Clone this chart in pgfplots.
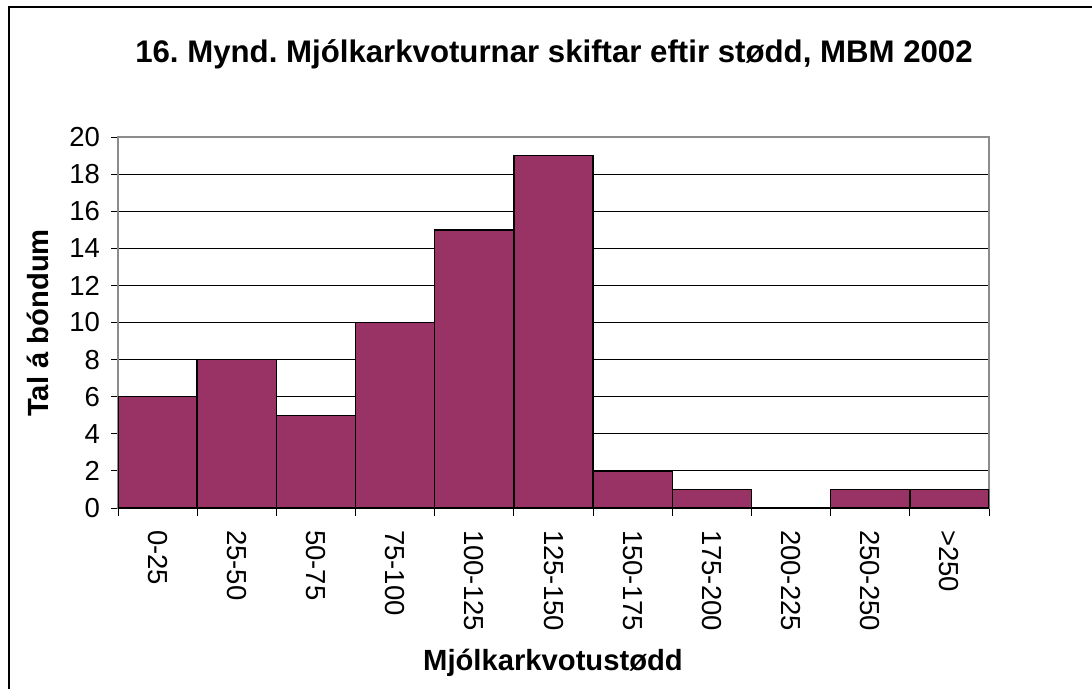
\documentclass[border=0pt]{standalone}
\usepackage{fontspec}
\setmainfont{Liberation Sans}
\usepackage{pgfplots}
\pgfplotsset{compat=1.18}
\definecolor{plum}{HTML}{993366}
\frenchspacing

\begin{document}
\begin{tikzpicture}
  % 1 px of the reference = 0.5pt
  \useasboundingbox (0,0) rectangle (546pt,-344.5pt);
  \draw[line width=0.75pt] (4.5pt,-3.5pt) rectangle (600pt,-400pt);
  \node[font=\bfseries\fontsize{15.6}{18}\selectfont] at (277pt,-27pt)
    {16. Mynd. Mjólkarkvoturnar skiftar eftir stødd, MBM 2002};
  \node[font=\bfseries\fontsize{14.6}{17}\selectfont, rotate=90] at (19pt,-161.5pt)
    {Tal á bóndum};
  \node[font=\bfseries\fontsize{14.6}{17}\selectfont] at (276.5pt,-331.5pt)
    {Mjólkarkvotustødd};
  \begin{axis}[
      at={(59pt,-254pt)}, anchor=south west,
      scale only axis,
      width=435.5pt, height=185.5pt,
      ybar, bar width=1, bar shift=0pt,
      xmin=-0.5, xmax=10.5,
      ymin=0, ymax=20,
      xtick={0,...,10},
      xticklabels={0-25,25-50,50-75,75-100,100-125,125-150,150-175,175-200,200-225,250-250,>250},
      minor xtick={-0.5,0.5,...,10.5},
      ytick={0,2,...,20},
      tick pos=left,
      major x tick style={draw=none},
      tick align=outside,
      major tick length=3.5pt,
      minor tick length=4pt,
      tick style={black, line width=0.5pt},
      ymajorgrids,
      grid style={black, line width=0.5pt},
      axis line style={draw=black!45, line width=0.75pt},
      /pgf/number format/assume math mode=true,
      ticklabel style={font=\fontsize{13.75}{16}\selectfont},
      xticklabel style={rotate=-90, anchor=west, xshift=4pt},
      yticklabel style={xshift=-2pt},
    ]
    \addplot[fill=plum, draw=black, line width=0.75pt] coordinates {
      (0,6) (1,8) (2,5) (3,10) (4,15) (5,19) (6,2) (7,1) (8,0) (9,1) (10,1)};
  \end{axis}
\end{tikzpicture}
\end{document}
